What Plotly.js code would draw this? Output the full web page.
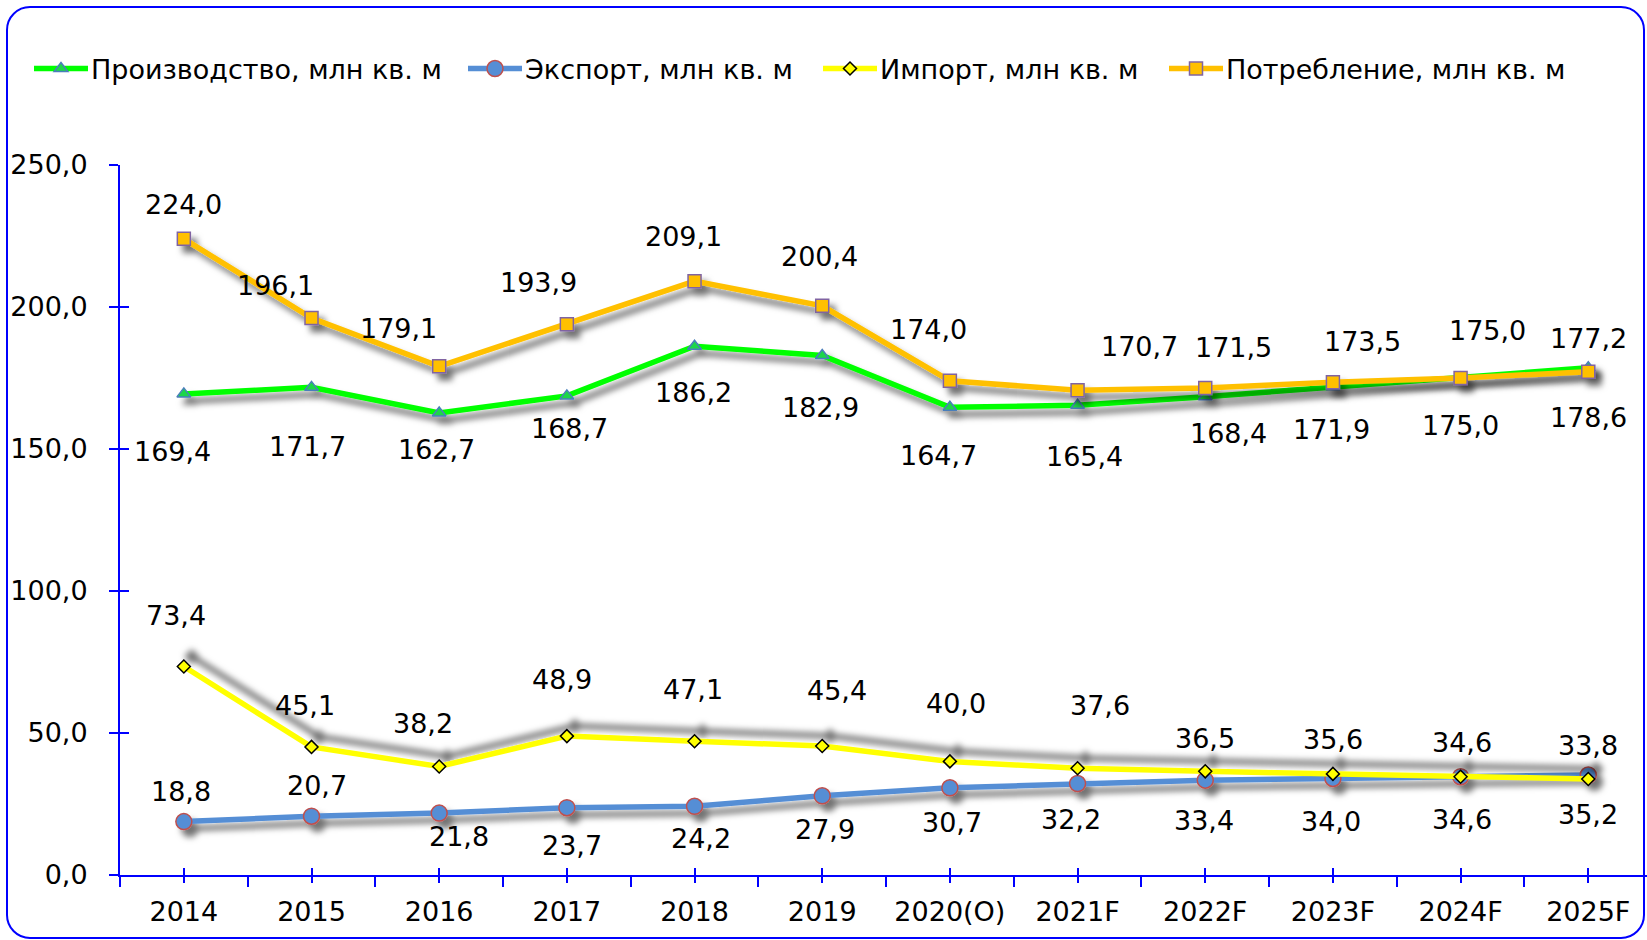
<!DOCTYPE html>
<html><head><meta charset="utf-8">
<script src="https://cdn.plot.ly/plotly-3.0.1.min.js"></script>
<style>
html,body{margin:0;padding:0;background:#fff;}
#wrap{position:relative;width:1647px;height:940px;overflow:hidden;}
#chart{width:1647px;height:940px;}
#frame{position:absolute;left:6px;top:6px;width:1639px;height:933px;box-sizing:border-box;border:2px solid #0000ff;border-radius:24px;pointer-events:none;}
</style></head>
<body><div id="wrap"><div id="chart"></div><div id="frame"></div></div>
<script>
// ---- data ----
const years = ['2014','2015','2016','2017','2018','2019','2020(O)','2021F','2022F','2023F','2024F','2025F'];
const production  = [169.4, 171.7, 162.7, 168.7, 186.2, 182.9, 164.7, 165.4, 168.4, 171.9, 175.0, 178.6];
const exportVals  = [18.8, 20.7, 21.8, 23.7, 24.2, 27.9, 30.7, 32.2, 33.4, 34.0, 34.6, 35.2];
const importVals  = [73.4, 45.1, 38.2, 48.9, 47.1, 45.4, 40.0, 37.6, 36.5, 35.6, 34.6, 33.8];
const consumption = [224.0, 196.1, 179.1, 193.9, 209.1, 200.4, 174.0, 170.7, 171.5, 173.5, 175.0, 177.2];
const seriesNames = ['Производство, млн кв. м', 'Экспорт, млн кв. м', 'Импорт, млн кв. м', 'Потребление, млн кв. м'];

// ---- label pixel offsets (style) [dx, dy] ----
const offProd = [[-11,58],[-4,59],[-3,37],[3,33],[-1,46],[-2,52],[-11,48],[7,51],[23,37],[-1,43],[0,47],[0,50]];
const offExp  = [[-3,-30],[5,-31],[20,23],[5,38],[6,32],[3,34],[2,35],[-7,36],[-1,40],[-2,43],[1,43],[0,39]];
const offImp  = [[-8,-51],[-7,-41],[-16,-43],[-5,-57],[-2,-52],[15,-56],[6,-58],[22,-63],[0,-33],[0,-34],[1,-34],[0,-34]];
const offCons = [[0,-34],[-36,-33],[-41,-38],[-28,-42],[-11,-45],[-3,-49],[-21,-51],[62,-44],[28,-40],[30,-41],[27,-48],[0,-33]];

const FONT = 'DejaVu Sans, Verdana, sans-serif';
const BLUE = '#0000FF';
const XR = [-0.5, 11.46];

const traces = [
  {x: years, y: production, name: seriesNames[0], mode: 'lines+markers', xaxis: 'x', yaxis: 'y',
   line: {color: '#00FF00', width: 5.5},
   marker: {symbol: 'triangle-up', size: 12, color: '#1ED64A', line: {color: '#4A7EBB', width: 1.5}}, hoverinfo: 'skip'},
  {x: years, y: exportVals, name: seriesNames[1], mode: 'lines+markers', xaxis: 'x2', yaxis: 'y',
   line: {color: '#558ED5', width: 5.5},
   marker: {symbol: 'circle', size: 16, color: '#558ED5', line: {color: '#C0504D', width: 1.5}}, hoverinfo: 'skip'},
  {x: years, y: importVals, name: seriesNames[2], mode: 'lines+markers', xaxis: 'x3', yaxis: 'y',
   line: {color: '#FFFF00', width: 5.5},
   marker: {symbol: 'diamond', size: 10, color: '#FFFF00', line: {color: '#000000', width: 1.5}}, hoverinfo: 'skip'},
  {x: years, y: consumption, name: seriesNames[3], mode: 'lines+markers', xaxis: 'x', yaxis: 'y2',
   line: {color: '#FFC000', width: 5.5},
   marker: {symbol: 'square', size: 13, color: '#FFC000', line: {color: '#8064A2', width: 1.5}}, hoverinfo: 'skip'}
];

function fmt(v){ return v.toFixed(1).replace('.', ','); }
const annotations = [];
function addLabels(vals, offs){
  // x given as the category index on the category axis
  vals.forEach((v, i) => annotations.push({
    x: years.indexOf(years[i]), y: v, xref: 'x', yref: 'y', text: fmt(v), showarrow: false,
    xshift: offs[i][0], yshift: -offs[i][1],
    font: {family: FONT, size: 27, color: '#000'}
  }));
}
addLabels(production, offProd);
addLabels(exportVals, offExp);
addLabels(importVals, offImp);
addLabels(consumption, offCons);

const baseX = {type: 'category', range: XR, showgrid: false, zeroline: false, fixedrange: true};
const layout = {
  width: 1647, height: 940,
  margin: {l: 120, r: 0, t: 165, b: 65, pad: 0},
  paper_bgcolor: '#ffffff', plot_bgcolor: '#ffffff',
  separators: ', ',
  showlegend: true,
  legend: {orientation: 'h', xref: 'container', yref: 'container', x: 24/1647, y: 1 - 69/940,
           xanchor: 'left', yanchor: 'middle', font: {family: FONT, size: 27, color: '#000'},
           bgcolor: 'rgba(0,0,0,0)', borderwidth: 0, itemwidth: 30},
  xaxis: Object.assign({}, baseX, {anchor: 'y', showline: true, linecolor: BLUE, linewidth: 2,
          ticks: 'outside', tickson: 'boundaries', ticklen: 10, tickwidth: 2, tickcolor: BLUE,
          tickfont: {family: FONT, size: 27, color: '#000'}, ticklabelstandoff: 12}),
  xaxis2: Object.assign({}, baseX, {anchor: 'y', overlaying: 'x', showline: false,
          ticks: 'outside', ticklen: 7, tickwidth: 2, tickcolor: BLUE, showticklabels: false}),
  xaxis3: Object.assign({}, baseX, {anchor: 'y', overlaying: 'x', showline: false,
          ticks: 'inside', ticklen: 7, tickwidth: 2, tickcolor: BLUE, showticklabels: false}),
  yaxis: {range: [0, 250], dtick: 50, tick0: 0, tickformat: '.1f', showgrid: false, zeroline: false,
          showline: true, linecolor: BLUE, linewidth: 2, ticks: 'outside', ticklen: 9, tickwidth: 2,
          tickcolor: BLUE, tickfont: {family: FONT, size: 27, color: '#000'}, ticklabelstandoff: 16, fixedrange: true},
  yaxis2: {range: [0, 250], dtick: 50, tick0: 0, overlaying: 'y', anchor: 'x', side: 'left', showgrid: false,
           zeroline: false, showline: false, ticks: 'inside', ticklen: 9, tickwidth: 2, tickcolor: BLUE,
           showticklabels: false, fixedrange: true},
  annotations: annotations
};

Plotly.newPlot('chart', traces, layout, {staticPlot: true, displayModeBar: false}).then(gd => {
  // drop shadows
  const svg = gd.querySelector('.main-svg');
  const NS = 'http://www.w3.org/2000/svg';
  let defs = svg.querySelector('defs');
  if (!defs) { defs = document.createElementNS(NS, 'defs'); svg.insertBefore(defs, svg.firstChild); }
  function mkFilter(id, dx, dy){
    const f = document.createElementNS(NS, 'filter');
    f.setAttribute('id', id); f.setAttribute('filterUnits', 'userSpaceOnUse');
    f.setAttribute('x', '-200'); f.setAttribute('y', '-300'); f.setAttribute('width', '2200'); f.setAttribute('height', '1500');
    const d = document.createElementNS(NS, 'feDropShadow');
    d.setAttribute('dx', dx); d.setAttribute('dy', dy); d.setAttribute('stdDeviation', '3');
    d.setAttribute('flood-color', '#000'); d.setAttribute('flood-opacity', '0.55');
    f.appendChild(d); defs.appendChild(f);
  }
  mkFilter('shDown', 6, 7);
  mkFilter('shUp', 8, -10);
  gd.querySelectorAll('.scatterlayer .trace').forEach(g => {
    const cd = g.__data__; const idx = cd && cd[0] && cd[0].trace ? cd[0].trace.index : -1;
    g.setAttribute('filter', idx === 2 ? 'url(#shUp)' : 'url(#shDown)');
  });
  // legend: no clipping, longer lines, custom item positions
  gd.querySelectorAll('.legend [clip-path]').forEach(el => el.removeAttribute('clip-path'));
  const lg = gd.querySelector('.legend');
  if (lg) lg.removeAttribute('clip-path');
  const starts = [34, 468, 823, 1169];
  const items = gd.querySelectorAll('.legend .traces');
  items.forEach((it, i) => {
    const line = it.querySelector('.legendlines path');
    if (line) line.setAttribute('d', 'M5,0h54');
    const pt = it.querySelector('.legendpoints path');
    if (pt) pt.setAttribute('transform', 'translate(32,0)');
    const tx = it.querySelector('text.legendtext');
    if (tx) { tx.setAttribute('x', 62); tx.querySelectorAll('tspan').forEach(t => { if (t.hasAttribute('x')) t.setAttribute('x', 62); }); }
    const r = line.getBoundingClientRect();
    const cur = r.left;
    const tr = it.getAttribute('transform') || '';
    const m = tr.match(/translate\(\s*([-\d.]+)[ ,]+([-\d.]+)\s*\)/);
    const tx0 = m ? parseFloat(m[1]) : 0, ty0 = m ? parseFloat(m[2]) : 0;
    it.setAttribute('transform', 'translate(' + (tx0 + starts[i] - cur) + ',' + ty0 + ')');
  });
});
</script>
</body></html>
